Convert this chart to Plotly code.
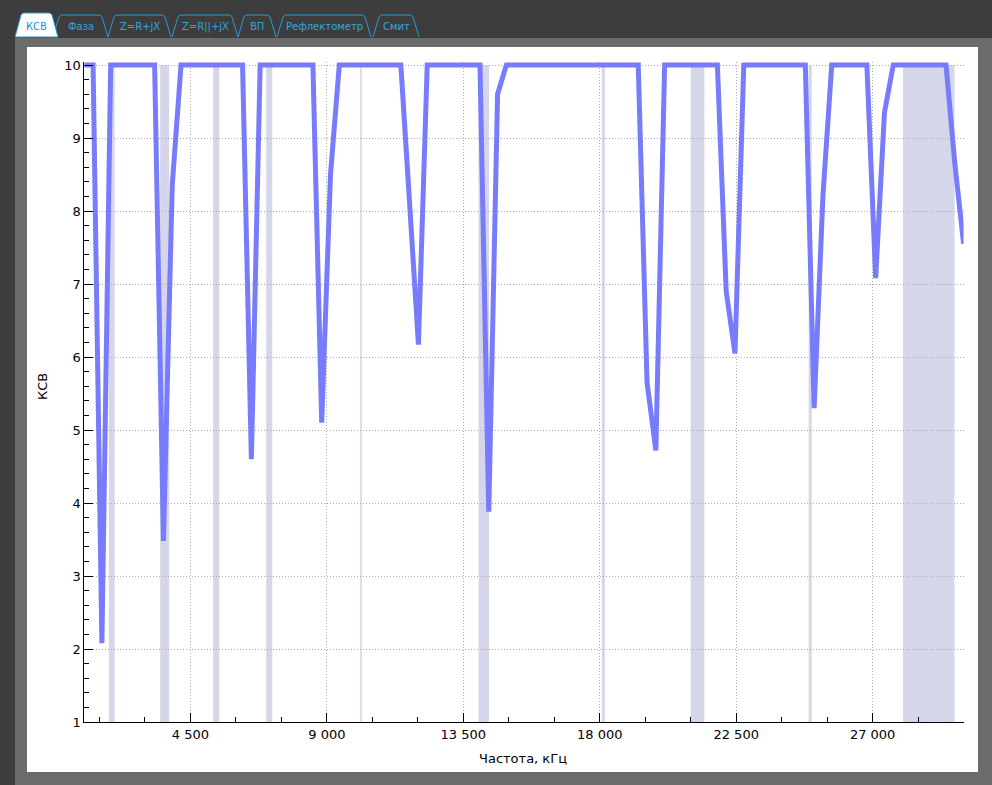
import plotly.graph_objects as go

# ---------------- data ----------------
freq_khz = [
    1000, 1290, 1580, 1870, 2160, 2450, 2740, 3030, 3320, 3610,
    3900, 4190, 4480, 4770, 5060, 5350, 5640, 5930, 6220, 6510,
    6800, 7090, 7380, 7670, 7960, 8250, 8540, 8830, 9120, 9410,
    9700, 9990, 10280, 10570, 10860, 11150, 11440, 11730, 12020, 12310,
    12600, 12890, 13180, 13470, 13760, 14050, 14340, 14630, 14920, 15210,
    15500, 15790, 16080, 16370, 16660, 16950, 17240, 17530, 17820, 18110,
    18400, 18690, 18980, 19270, 19560, 19850, 20140, 20430, 20720, 21010,
    21300, 21590, 21880, 22170, 22460, 22750, 23040, 23330, 23620, 23910,
    24200, 24490, 24780, 25070, 25360, 25650, 25940, 26230, 26520, 26810,
    27100, 27390, 27680, 27970, 28260, 28550, 28840, 29130, 29420, 29710,
    30000,
]
vswr = [
    10, 10, 2.08, 10, 10, 10, 10, 10, 10, 3.48,
    8.35, 10, 10, 10, 10, 10, 10, 10, 10, 4.6,
    10, 10, 10, 10, 10, 10, 10, 5.1, 8.5, 10,
    10, 10, 10, 10, 10, 10, 10, 8.1, 6.17, 10,
    10, 10, 10, 10, 10, 10, 3.88, 9.6, 10, 10,
    10, 10, 10, 10, 10, 10, 10, 10, 10, 10,
    10, 10, 10, 10, 5.65, 4.72, 10, 10, 10, 10,
    10, 10, 10, 6.9, 6.05, 10, 10, 10, 10, 10,
    10, 10, 10, 5.3, 8.2, 10, 10, 10, 10, 10,
    7.08, 9.35, 10, 10, 10, 10, 10, 10, 10, 8.65,
    7.55,
]
band_start_khz = [1810, 3500, 5250, 7000, 10100, 14000, 18068, 21000, 24890, 28000]
band_end_khz = [2000, 3800, 5450, 7200, 10150, 14350, 18168, 21450, 24990, 29700]
tab_labels = ["КСВ", "Фаза", "Z=R+jX", "Z=R||+jX", "ВП", "Рефлектометр", "Смит"]
x_title = "Частота, кГц"
y_title = "КСВ"

# ---------------- layout helpers (pixels -> paper) ----------------
W, H = 992, 785


def px(x):
    return x / W


def py(y):
    return 1 - y / H


# tab outlines in pixels: (bottom-left x, bottom-right x)
tab_px = [(15, 58), (53, 108), (108, 171), (172, 238), (238, 276), (277, 371), (373, 419)]
tab_top, tab_bot = 15, 37

FONT = "DejaVu Sans"
LINE_BLUE = "#787cfc"
BAND = "#d5d6ea"
TAB_LINE = "#2a9ad4"

fig = go.Figure()
fig.add_trace(go.Scatter(
    x=freq_khz, y=vswr, mode="lines",
    line=dict(color=LINE_BLUE, width=5),
    hoverinfo="skip", showlegend=False,
))

shapes = []
# grey frame and white panel
shapes.append(dict(type="rect", xref="paper", yref="paper", layer="below",
                   x0=px(15), x1=px(992), y0=py(785), y1=py(38),
                   fillcolor="#6b6b6b", line=dict(width=0)))
shapes.append(dict(type="rect", xref="paper", yref="paper", layer="below",
                   x0=px(27), x1=px(978), y0=py(772), y1=py(47),
                   fillcolor="white", line=dict(width=0)))
# frequency bands
for b0, b1 in zip(band_start_khz, band_end_khz):
    shapes.append(dict(type="rect", xref="x", yref="y", layer="below",
                       x0=b0, x1=b1, y0=1, y1=10,
                       fillcolor=BAND, line=dict(width=0)))

# tabs (inactive first, active last)
annotations = []
order = list(range(1, len(tab_px))) + [0]
for i in order:
    x0, x1 = tab_px[i]
    active = (i == 0)
    top = tab_top - (2 if active else 0)
    s = 7
    path = (f"M {px(x0)},{py(tab_bot)} L {px(x0 + s - 1)},{py(top + 2)} "
            f"Q {px(x0 + s)},{py(top)} {px(x0 + s + 2)},{py(top)} "
            f"L {px(x1 - s - 2)},{py(top)} Q {px(x1 - s)},{py(top)} {px(x1 - s + 1)},{py(top + 2)} "
            f"L {px(x1)},{py(tab_bot)}")
    if active:
        path += " Z"
    shapes.append(dict(type="path", xref="paper", yref="paper", layer="above",
                       path=path,
                       fillcolor="white" if active else "rgba(0,0,0,0)",
                       line=dict(color=TAB_LINE, width=1)))
    annotations.append(dict(x=px((x0 + x1) / 2), y=py(27), xref="paper", yref="paper",
                            text=tab_labels[i], showarrow=False,
                            xanchor="center", yanchor="middle",
                            font=dict(family=FONT, size=10,
                                      color="#2a8cd0" if active else "#35a4dc")))

# axis titles
annotations.append(dict(x=px(523), y=py(758), xref="paper", yref="paper",
                        text=x_title, showarrow=False, xanchor="center", yanchor="middle",
                        font=dict(family=FONT, size=13, color="black")))
annotations.append(dict(x=px(42), y=py(387), xref="paper", yref="paper",
                        text=y_title, showarrow=False, xanchor="center", yanchor="middle",
                        textangle=-90,
                        font=dict(family=FONT, size=13, color="black")))

axis_common = dict(
    automargin=False,
    showline=True, linecolor="black", linewidth=1,
    ticks="inside", ticklen=9, tickwidth=1, tickcolor="black",
    showgrid=True, gridcolor="#a9a9a9", gridwidth=1, griddash="1px,2px",
    zeroline=False,
    tickfont=dict(family=FONT, size=13, color="black"),
)

fig.update_layout(
    template="none",
    width=W, height=H,
    margin=dict(l=0, r=0, t=0, b=0, pad=0, autoexpand=False),
    paper_bgcolor="#3d3d3d",
    plot_bgcolor="white",
    separators=". ",
    showlegend=False,
    font=dict(family=FONT),
    xaxis=dict(
        domain=[px(84.3), px(963.6)],
        range=[1000, 30000],
        tick0=0, dtick=4500, tickformat=",d",
        minor=dict(ticks="inside", ticklen=5, tickwidth=1, tickcolor="black",
                   tick0=0, dtick=1500, showgrid=False),
        **axis_common,
    ),
    yaxis=dict(
        domain=[py(722), py(62.1)],
        range=[1, 10.04],
        tick0=0, dtick=1,
        minor=dict(ticks="inside", ticklen=5, tickwidth=1, tickcolor="black",
                   tick0=0, dtick=0.2, showgrid=False),
        **axis_common,
    ),
    shapes=shapes,
    annotations=annotations,
)

post = (
    "var h=document.documentElement,b=document.body;"
    "h.style.margin='0';h.style.padding='0';h.style.overflow='hidden';"
    "b.style.margin='0';b.style.padding='0';b.style.overflow='hidden';"
)

fig.write_html(
    "out.html",
    config={"displayModeBar": False},
    post_script=post,
)
